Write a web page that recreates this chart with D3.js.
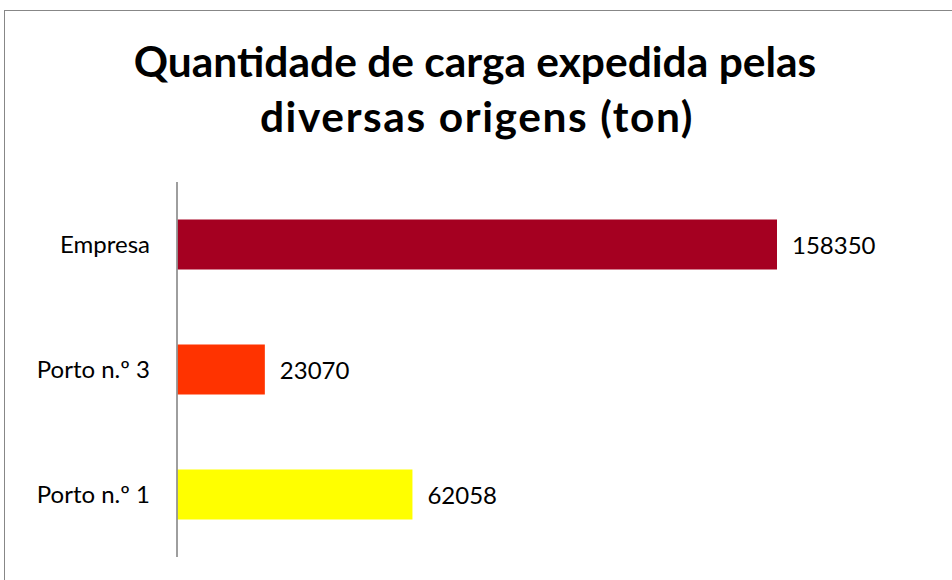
<!DOCTYPE html>
<html><head><meta charset="utf-8">
<script src="https://cdn.jsdelivr.net/npm/d3@7"></script>
<style>body{margin:0;background:#fff}svg{display:block}</style>
</head><body>
<script>
const categories = ["Empresa", "Porto n.º 3", "Porto n.º 1"];
const values = [158350, 23070, 62058];
const colors = ["#a50021", "#ff3300", "#ffff00"];
const titleLines = ["Quantidade de carga expedida pelas", "diversas origens (ton)"];

const W = 952, H = 580;
const svg = d3.select("body").append("svg").attr("width", W).attr("height", H);

svg.append("rect").attr("x", 4.5).attr("y", 10.5).attr("width", W + 10).attr("height", H + 10)
  .attr("fill", "#fff").attr("stroke", "#878787").attr("stroke-width", 1);

const x = d3.scaleLinear().domain([0, 158350]).range([177.5, 777]);
const y = d3.scaleBand().domain(categories).range([182, 557]).paddingInner(0.6).paddingOuter(0.3);

const font = "Lato, 'Open Sans', sans-serif";

svg.selectAll("text.title").data(titleLines).join("text")
  .attr("class", "title")
  .attr("x", (d, i) => i === 0 ? 475 : 477).attr("y", (d, i) => 77 + i * 55)
  .attr("text-anchor", "middle")
  .attr("font-family", font).attr("font-weight", "bold").attr("font-size", 42.5)
  .attr("letter-spacing", (d, i) => i === 0 ? 0 : 1.6)
  .attr("fill", "#000").text(d => d);

const data = categories.map((c, i) => ({c, v: values[i], col: colors[i]}));

svg.selectAll("rect.bar").data(data).join("rect")
  .attr("class", "bar")
  .attr("x", x(0)).attr("y", d => y(d.c))
  .attr("width", d => x(d.v) - x(0)).attr("height", y.bandwidth())
  .attr("fill", d => d.col);

svg.selectAll("text.val").data(data).join("text")
  .attr("class", "val")
  .attr("x", d => x(d.v) + 15).attr("y", d => y(d.c) + y.bandwidth() / 2 + 9)
  .attr("font-family", font).attr("font-size", 24).attr("fill", "#000")
  .text(d => d.v);

const axis = d3.axisLeft(y).tickSize(0).tickPadding(27);
const g = svg.append("g").attr("transform", `translate(${x(0) - 0.5},0)`).call(axis);
g.select(".domain").attr("stroke", "#868686").attr("stroke-width", 1.6).attr("d", "M0,182V557");
g.selectAll(".tick text").attr("font-family", font).attr("font-size", 24).attr("fill", "#000")
  .attr("dy", "0.36em");
</script>
</body></html>
